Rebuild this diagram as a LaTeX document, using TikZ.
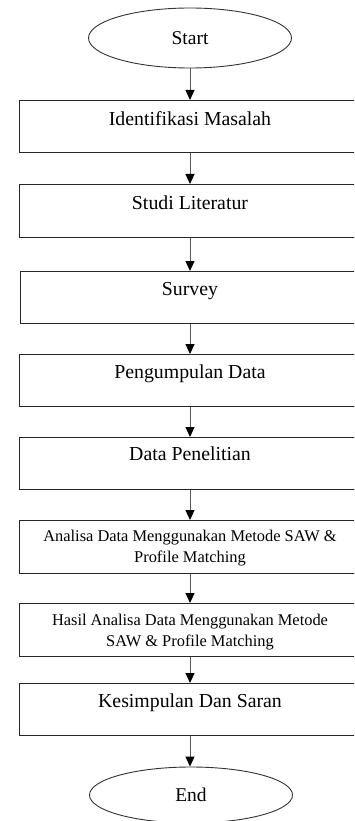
\documentclass[tikz,border=0pt]{standalone}
\usepackage{fontspec}
\setmainfont{Liberation Serif}
\usetikzlibrary{shapes.geometric,arrows.meta}
\begin{document}
\begin{tikzpicture}[x=1pt,y=-1pt,
 term/.style={draw=black!80, line width=0.9pt, ellipse, minimum width=203pt, minimum height=60pt, inner sep=0pt, font=\fontsize{19.5}{22}\selectfont},
 stepbox/.style={draw=black!85, line width=1.3pt, rectangle, minimum width=342pt, anchor=north west, inner sep=0pt},
 lbl/.style={font=\fontsize{19.8}{23}\selectfont, inner sep=0pt, text height=13pt, text depth=4pt},
 small/.style={font=\fontsize{16.4}{21}\selectfont, align=center, inner sep=0pt},
 flow/.style={draw=black!65, line width=1pt, -{Triangle[length=10pt,width=9pt,color=black]}}
]
\useasboundingbox (0,0) rectangle (354,821);
\clip (0,0) rectangle (354,821);

\node[term] (start) at (190,38) {Start};

\node[stepbox, minimum height=52pt] (b1) at (19,100) {};
\node[stepbox, minimum height=53pt] (b2) at (19,184) {};
\node[stepbox, minimum height=52pt] (b3) at (20,271) {};
\node[stepbox, minimum height=52pt] (b4) at (19,354) {};
\node[stepbox, minimum height=52pt] (b5) at (19,437) {};
\node[stepbox, minimum height=53pt] (b6) at (19,520) {};
\node[stepbox, minimum height=53pt] (b7) at (19,603) {};
\node[stepbox, minimum height=52pt] (b8) at (19,683) {};

\node[term, minimum height=56pt] (end) at (191,795) {End};

\node[lbl] (t1) at (190,121) {Identifikasi Masalah};
\node[lbl] (t2) at (190,205) {Studi Literatur};
\node[lbl] (t3) at (190,291) {Survey};
\node[lbl] (t4) at (190,374) {Pengumpulan Data};
\node[lbl] (t5) at (190,456) {Data Penelitian};
\node[small] (t6) at (190,548) {Analisa Data Menggunakan Metode SAW \&\\Profile Matching};
\node[small] (t7) at (190,632) {Hasil Analisa Data Menggunakan Metode\\SAW \& Profile Matching};
\node[lbl] (t8) at (190,703) {Kesimpulan Dan Saran};

\draw[flow] (start.south) -- (start.south |- b1.north);
\draw[flow] (b1.south -| start.south) -- (b2.north -| start.south);
\draw[flow] (b2.south -| start.south) -- (b3.north -| start.south);
\draw[flow] (b3.south -| start.south) -- (b4.north -| start.south);
\draw[flow] (b4.south -| start.south) -- (b5.north -| start.south);
\draw[flow] (b5.south -| start.south) -- (b6.north -| start.south);
\draw[flow] (b6.south -| start.south) -- (b7.north -| start.south);
\draw[flow] (b7.south -| start.south) -- (b8.north -| start.south);
\draw[flow] (b8.south -| start.south) -- (end.north -| start.south);
\end{tikzpicture}
\end{document}
